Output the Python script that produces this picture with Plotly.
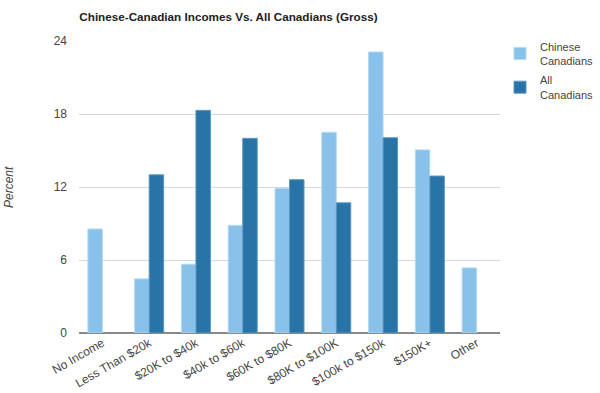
import plotly.graph_objects as go

categories = ["No Income", "Less Than $20k", "$20K to $40k", "$40k to $60k", "$60K to $80K",
              "$80K to $100K", "$100k to $150k", "$150K+", "Other"]
chinese = [8.55, 4.45, 5.65, 8.85, 11.9, 16.5, 23.1, 15.05, 5.35]
all_can = [None, 13.0, 18.3, 16.0, 12.6, 10.7, 16.05, 12.9, None]
yticks = [0, 6, 12, 18, 24]

W, H = 600, 393
L, R, T, B = 79, 100, 41, 60
fig = go.Figure()
fig.add_trace(go.Bar(x=categories, y=chinese, name="Chinese<br>Canadians", legendgroup="a",
                     marker=dict(color="#88C1EA", line=dict(color="#B5D9F2", width=1))))
fig.add_trace(go.Bar(x=categories, y=all_can, name="All<br>Canadians", legendgroup="b",
                     marker=dict(color="#2874A6", line=dict(color="#5D98C0", width=1))))

fig.update_layout(
    width=W, height=H,
    margin=dict(l=L, r=R, t=T, b=B),
    paper_bgcolor="white", plot_bgcolor="white",
    barmode="group", bargap=0.38, bargroupgap=0.0,
    font=dict(family="Liberation Sans, Arial, sans-serif", color="#444", size=12),
    title=dict(text="<b>Chinese-Canadian Incomes Vs. All Canadians (Gross)</b>",
               x=79.3/W, xanchor="left", y=1-16.7/H, yanchor="middle",
               font=dict(size=11.7, color="#222")),
    legend=dict(xref="container", yref="container", x=500/W, xanchor="left",
                y=1-32.8/H, yanchor="top",
                font=dict(size=11, color="#444"), tracegroupgap=2,
                itemwidth=30),
    showlegend=True,
)
fig.update_xaxes(tickangle=-30, showgrid=False, showline=False, ticks="", automargin=False,
                 tickfont=dict(size=12, color="#444"))
fig.update_yaxes(range=[0, 24], tickvals=yticks, showgrid=True, gridcolor="#D6D6D6",
                 gridwidth=1, zeroline=True, zerolinecolor="#888", zerolinewidth=2,
                 automargin=False,
                 tickfont=dict(size=12, color="#444"), ticks="", ticklabelstandoff=11)
fig.add_annotation(text="<i>Percent</i>", xref="paper", yref="paper",
                   x=(9-L)/(W-L-R), xanchor="center", y=0.5, textangle=-90, showarrow=False,
                   font=dict(size=12, color="#444"))
fig.write_html("out.html", config={"displayModeBar": False},
               post_script="document.body.style.margin='0';")
